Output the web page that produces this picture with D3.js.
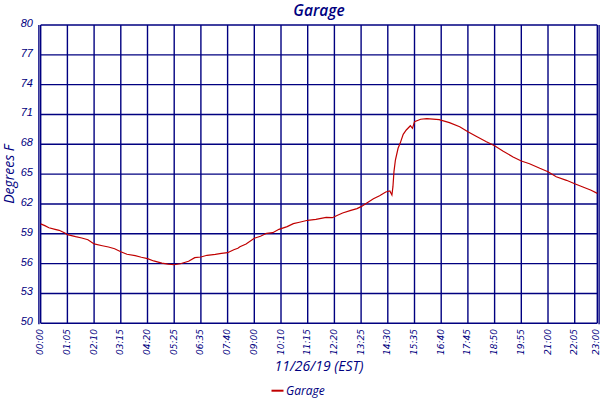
<!DOCTYPE html>
<html>
<head>
<meta charset="utf-8">
<script src="https://cdn.jsdelivr.net/npm/d3@7"></script>
<style>
  html, body { margin: 0; padding: 0; background: #fff; }
  svg { display: block; }
</style>
</head>
<body>
<svg id="chart" width="600" height="400"></svg>
<script>
// ---- data ----
const chartTitle = "Garage";
const yTitle = "Degrees F";
const xTitle = "11/26/19 (EST)";
const seriesName = "Garage";

const xTickLabels = ["00:00","01:05","02:10","03:15","04:20","05:25","06:35","07:40","09:00","10:10","11:15",
                     "12:20","13:25","14:30","15:35","16:40","17:45","18:50","19:55","21:00","22:05","23:00"];
const xTickIdx = [0,13,26,39,52,65,78,91,104,117,130,143,156,169,182,195,208,221,234,247,260,271];
const yTicks = [50,53,56,59,62,65,68,71,74,77,80];

const sampleIdx = [0,2,4,7,9,12,13,17,20,23,26,30,33,36,39,42,46,49,52,55,59,62,65,68,72,75,78,81,85,88,91,94,96,97,100,
                   104,107,110,113,116,120,123,126,130,134,139,142,144,147,151,154,156,159,162,165,168,170,171,171.5,172,
                   172.7,174,175,176.5,178,180,181,182,185,188,194,199,204,208,212,217,221,225,230,234,238,243,247,251,256,260,264,268,271];
const tempF = [60.0,59.82,59.61,59.45,59.35,59.05,58.91,58.71,58.58,58.41,57.98,57.80,57.67,57.50,57.20,56.94,56.80,56.64,56.50,56.27,56.06,55.96,55.89,55.99,56.24,56.60,56.67,56.84,56.94,57.04,57.10,57.40,57.54,57.70,57.98,
               58.55,58.75,59.05,59.11,59.45,59.72,60.02,60.16,60.36,60.46,60.66,60.62,60.82,61.09,61.36,61.53,61.73,62.13,62.53,62.83,63.21,63.31,62.90,63.74,65.25,
               66.42,67.60,68.10,69.01,69.44,69.87,69.61,70.28,70.52,70.58,70.48,70.18,69.77,69.27,68.81,68.26,67.86,67.33,66.73,66.32,66.05,65.59,65.25,64.74,64.38,64.04,63.71,63.38,63.07];

// ---- layout ----
const navy = "#000080";
const red = "#c00000";
const pLeft = 40.7, pRight = 597.3, pTop = 25, pBottom = 323.3;

const svg = d3.select("#chart");
const x = d3.scaleLinear().domain([0, 271]).range([pLeft, pRight]);
const y = d3.scaleLinear().domain([50, 80]).range([pBottom, pTop]);

// grid
const g = svg.append("g").attr("stroke", navy).attr("stroke-width", 1.4).attr("fill", "none");
g.selectAll("line.v").data(xTickIdx).enter().append("line")
  .attr("x1", d => x(d)).attr("x2", d => x(d)).attr("y1", pTop).attr("y2", pBottom);
g.selectAll("line.h").data(yTicks).enter().append("line")
  .attr("y1", d => y(d)).attr("y2", d => y(d)).attr("x1", pLeft).attr("x2", pRight);
// double frame lines on left and right
g.append("line").attr("x1", pLeft - 1.8).attr("x2", pLeft - 1.8).attr("y1", pTop).attr("y2", pBottom + 1);
g.append("line").attr("x1", pRight + 1.8).attr("x2", pRight + 1.8).attr("y1", pTop).attr("y2", pBottom + 1);

// series
const pts = sampleIdx.map((d, i) => [d, tempF[i]]);
svg.append("path")
  .datum(pts)
  .attr("fill", "none")
  .attr("stroke", red)
  .attr("stroke-width", 1.2)
  .attr("d", d3.line().x(d => x(d[0])).y(d => y(d[1])));

// y tick labels
svg.append("g").selectAll("text").data(yTicks).enter().append("text")
  .attr("x", 33).attr("y", d => y(d) + 2)
  .attr("text-anchor", "end")
  .attr("font-family", "Liberation Sans, Arial, sans-serif")
  .attr("font-style", "italic")
  .attr("font-size", 11)
  .attr("fill", navy)
  .text(d => d);

// x tick labels (rotated)
svg.append("g").selectAll("text").data(xTickIdx).enter().append("text")
  .attr("transform", (d) => `translate(${Math.min(x(d) + 2.5, 598.5)},329) rotate(-90)`)
  .attr("text-anchor", "end")
  .attr("font-family", "DejaVu Sans, Verdana, sans-serif")
  .attr("font-style", "italic")
  .attr("font-size", 9)
  .attr("fill", navy)
  .text((d, i) => xTickLabels[i]);

// titles
svg.append("text")
  .attr("x", (pLeft + pRight) / 2).attr("y", 16)
  .attr("text-anchor", "middle")
  .attr("font-family", "Open Sans, sans-serif")
  .attr("font-style", "italic")
  .attr("font-weight", 600)
  .attr("font-size", 15.5)
  .attr("fill", navy)
  .text(chartTitle);

svg.append("text")
  .attr("transform", `translate(14,${(pTop + pBottom) / 2}) rotate(-90)`)
  .attr("text-anchor", "middle")
  .attr("font-family", "Open Sans, sans-serif")
  .attr("font-style", "italic")
  .attr("font-weight", 500)
  .attr("font-size", 14)
  .attr("fill", navy)
  .text(yTitle);

svg.append("text")
  .attr("x", (pLeft + pRight) / 2).attr("y", 371)
  .attr("text-anchor", "middle")
  .attr("font-family", "Open Sans, sans-serif")
  .attr("font-style", "italic")
  .attr("font-size", 14)
  .attr("fill", navy)
  .text(xTitle);

// legend
svg.append("line")
  .attr("x1", 271.5).attr("x2", 283.5).attr("y1", 390.7).attr("y2", 390.7)
  .attr("stroke", red).attr("stroke-width", 2);
svg.append("text")
  .attr("x", 286).attr("y", 395)
  .attr("font-family", "Open Sans, sans-serif")
  .attr("font-style", "italic")
  .attr("font-size", 12)
  .attr("fill", navy)
  .text(seriesName);
</script>
</body>
</html>
